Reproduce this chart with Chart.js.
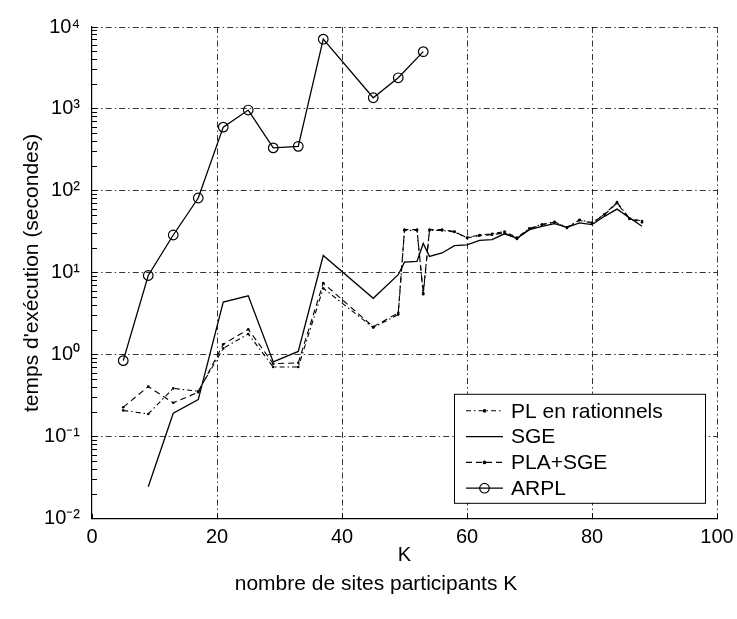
<!DOCTYPE html>
<html>
<head>
<meta charset="utf-8">
<script src="https://cdn.jsdelivr.net/npm/chart.js@4.4.0/dist/chart.umd.min.js"></script>
<style>
  html, body { margin: 0; padding: 0; background: #fff; }
  canvas { display: block; }
</style>
</head>
<body>
<canvas id="c" width="737" height="619"></canvas>
<script>
// K values (nombre de sites) and times (seconds)
const kArpl = [5, 9, 13, 17, 21, 25, 29, 33, 37, 45, 49, 53];
const tArpl = [0.85, 9.3, 29, 82, 600, 970, 335, 350, 7100, 1370, 2400, 5000];

const kSge = [9, 13, 17, 21, 25, 29, 33, 37, 45, 49, 50, 52, 53, 54, 56, 58, 60, 62, 64, 66, 68, 70, 72, 74, 76, 78, 80, 82, 84, 86, 88];
const tSge = [0.0246, 0.194, 0.285, 4.4, 5.25, 0.82, 1.1, 16.3, 4.9, 9.5, 13.5, 13.8, 22.8, 15.9, 17.5, 21.5, 22, 25, 25.5, 30, 26.5, 33.7, 37, 40, 36, 40.7, 38.8, 49, 60, 47, 37];

const kPl = [5, 9, 13, 17, 21, 25, 29, 33, 37, 45, 49, 50, 52, 53, 54, 56, 58, 60, 62, 64, 66, 68, 70, 72, 74, 76, 78, 80, 82, 84, 86, 88];
const tPl = [0.21, 0.19, 0.39, 0.36, 1.2, 1.8, 0.71, 0.71, 6.5, 2.15, 3.1, 33, 33, 5.5, 33, 33, 31.5, 27, 29, 30, 32, 27, 35, 39, 42, 36, 44.5, 41, 52, 73, 46, 43];
const tPla = [0.23, 0.41, 0.26, 0.35, 1.35, 2.05, 0.78, 0.8, 7.5, 2.2, 3.25, 33.7, 33.7, 5.7, 33.7, 33.7, 32, 26.7, 28.5, 29.3, 30.7, 26, 34.4, 38.8, 41.4, 35.4, 43.8, 40.7, 51.4, 71, 45.6, 41.4];

// axis ticks
const yDecades = [-2, -1, 0, 1, 2, 3, 4];
const yMinorSteps = [2, 3, 4, 5, 6, 7, 8, 9];
const xTickStep = 20;

const pts = (ks, vs) => ks.map((k, i) => ({ x: k, y: vs[i] }));

const sup = { '-': '\u207B', '0': '\u2070', '1': '\u00B9', '2': '\u00B2', '3': '\u00B3', '4': '\u2074',
              '5': '\u2075', '6': '\u2076', '7': '\u2077', '8': '\u2078', '9': '\u2079' };
const isDecade = v => Math.abs(Math.log10(v) - Math.round(Math.log10(v))) < 1e-9;

Chart.defaults.font.family = '"Liberation Sans", Arial, sans-serif';
Chart.defaults.color = '#000';

// legend drawn inside the plot, lower right, with a frame
const legendBox = {
  id: 'legendBox',
  afterDraw(chart) {
    const { ctx, chartArea } = chart;
    const w = 251, h = 109;
    const x0 = chartArea.right - 12 - w;
    const y0 = chartArea.bottom - 16 - h;
    ctx.save();
    ctx.fillStyle = '#fff';
    ctx.fillRect(x0, y0, w, h);
    ctx.strokeStyle = '#000';
    ctx.lineWidth = 1;
    ctx.strokeRect(x0 + 0.5, y0 + 0.5, w, h);
    ctx.font = '21px "Liberation Sans", Arial, sans-serif';
    ctx.textBaseline = 'middle';
    chart.data.datasets.forEach((ds, i) => {
      const y = y0 + 17 + i * 25.8;
      const xa = x0 + 12, xb = x0 + 49;
      ctx.strokeStyle = '#000';
      ctx.lineWidth = ds.borderWidth;
      ctx.setLineDash(ds.borderDash || []);
      ctx.beginPath(); ctx.moveTo(xa, y); ctx.lineTo(xb, y); ctx.stroke();
      ctx.setLineDash([]);
      if (ds.pointRadius > 0) {
        ctx.beginPath();
        ctx.arc((xa + xb) / 2, y, ds.pointRadius, 0, Math.PI * 2);
        ctx.fillStyle = ds.pointBackgroundColor;
        ctx.fill();
        ctx.lineWidth = ds.pointBorderWidth;
        ctx.stroke();
      }
      ctx.fillStyle = '#000';
      ctx.fillText(ds.label, x0 + 57, y + 1);
    });
    ctx.restore();
  }
};

new Chart(document.getElementById('c'), {
  type: 'line',
  data: {
    datasets: [
      {
        label: 'PL en rationnels',
        data: pts(kPl, tPl),
        borderColor: '#000', borderWidth: 1.1, borderDash: [5, 3, 1.5, 3],
        pointRadius: 1.3, pointBackgroundColor: '#000', pointBorderColor: '#000', pointBorderWidth: 0
      },
      {
        label: 'SGE',
        data: pts(kSge, tSge),
        borderColor: '#000', borderWidth: 1.3, borderDash: [],
        pointRadius: 0
      },
      {
        label: 'PLA+SGE',
        data: pts(kPl, tPla),
        borderColor: '#000', borderWidth: 1.1, borderDash: [6, 4],
        pointRadius: 1.3, pointBackgroundColor: '#000', pointBorderColor: '#000', pointBorderWidth: 0
      },
      {
        label: 'ARPL',
        data: pts(kArpl, tArpl),
        borderColor: '#000', borderWidth: 1.3, borderDash: [],
        pointRadius: 4.8, pointBackgroundColor: 'rgba(255,255,255,0)', pointBorderColor: '#000', pointBorderWidth: 1.2
      }
    ]
  },
  options: {
    responsive: false,
    animation: false,
    devicePixelRatio: 1,
    layout: { padding: { top: 27, right: 20, left: 35, bottom: 0 } },
    plugins: {
      legend: { display: false },
      tooltip: { enabled: false },
      title: {
        display: true,
        position: 'bottom',
        text: 'nombre de sites participants K',
        font: { size: 21, weight: 'normal' },
        color: '#000',
        padding: { top: 0, bottom: 22 }
      }
    },
    scales: {
      x: {
        type: 'linear',
        min: 0, max: 100,
        afterFit: s => { s.height = 53; s.paddingLeft = 0; s.paddingRight = 0; },
        ticks: { stepSize: xTickStep, font: { size: 20 }, color: '#000', padding: 12, maxRotation: 0 },
        grid: {
          color: c => (c.tick && c.tick.value === 0) ? 'rgba(0,0,0,0)' : '#000',
          lineWidth: 0.8,
          tickLength: -5,
          tickColor: '#000',
          tickWidth: 1,
          tickBorderDash: []
        },
        border: { display: true, color: '#000', width: 1.2, dash: [6, 3, 1.5, 3] },
        title: { display: true, text: 'K', font: { size: 20 }, color: '#000', padding: { top: 0, bottom: 4 } }
      },
      y: {
        type: 'logarithmic',
        min: 0.01, max: 10000,
        afterFit: s => { s.width = 57; s.paddingTop = 0; s.paddingBottom = 0; },
        afterBuildTicks: s => {
          const ticks = [];
          yDecades.forEach((d, i) => {
            ticks.push({ value: Math.pow(10, d), major: true });
            if (i < yDecades.length - 1) {
              yMinorSteps.forEach(m => ticks.push({ value: +(m * Math.pow(10, d)).toPrecision(6), major: false }));
            }
          });
          s.ticks = ticks;
        },
        ticks: {
          autoSkip: false,
          font: { size: 20 },
          color: '#000',
          padding: 17,
          callback: v => {
            if (!isDecade(v)) return '';
            const e = String(Math.round(Math.log10(v)));
            return '10' + e.split('').map(ch => sup[ch]).join('');
          }
        },
        grid: {
          color: c => (c.tick && isDecade(c.tick.value) && c.tick.value !== 0.01) ? '#000' : 'rgba(0,0,0,0)',
          lineWidth: 0.8,
          tickLength: -5,
          tickColor: '#000',
          tickWidth: 1,
          tickBorderDash: []
        },
        border: { display: true, color: '#000', width: 1.2, dash: [6, 3, 1.5, 3] },
        title: {
          display: true,
          text: "temps d'exécution (secondes)",
          font: { size: 21 },
          color: '#000',
          padding: { top: -15, bottom: 0 }
        }
      }
    }
  },
  plugins: [legendBox]
});
</script>
</body>
</html>
